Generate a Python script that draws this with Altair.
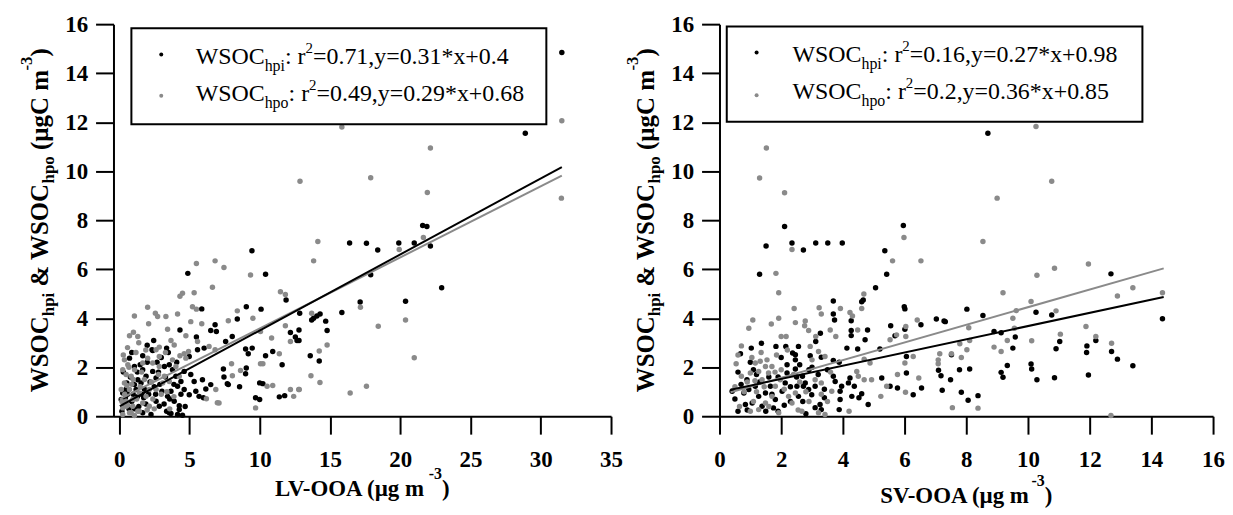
import altair as alt
import pandas as pd

# ---------------- data ----------------
# left panel: WSOC vs LV-OOA
lv_hpi = [(31.5,14.84),(28.9,11.55),(21.6,7.78),(21.9,7.74),(16.4,7.07),(17.6,7.06),(18.4,6.78),(19.9,7.07),
          (21.0,7.07),(22.15,6.95),(17.9,5.77),(22.95,5.24),(17.15,4.66),(20.38,4.69),(15.85,4.23),(12.85,4.2),
          (12.8,3.52),(12.8,3.09),(13.7,3.93),(13.84,4.0),(14.07,4.09),(14.3,4.17),(14.7,3.88),(14.8,3.5),
          (13.6,2.47),(14.24,2.25),(9.45,6.75),(4.89,5.83),(10.42,5.79),(11.88,4.74),(5.88,4.38),(9.05,4.47),
          (10.1,4.37),(8.41,3.97),(4.33,3.52),(6.83,3.73),(6.52,3.5),(6.92,3.46),(5.5,3.23),(8.05,3.25),
          (7.58,3.05),(12.19,3.42),(12.54,3.23),(12.66,3.09),(2.46,3.09),(2.34,2.71),(3.38,2.78),(4.99,2.44),
          (5.58,2.71),(6.05,2.78),(9.0,2.74),(9.19,2.55),(9.47,2.78),(10.42,2.47),(10.93,2.64),(11.6,2.1),
          (7.42,1.93),(9.05,1.97),(9.0,1.73),(7.46,1.6),(7.77,1.29),(8.57,1.2),(10.0,1.36),(10.23,1.33),
          (11.4,0.79),(11.78,0.84),(6.52,1.29),(4.16,1.22),(4.63,1.09),(4.99,0.88),(5.46,1.02),(5.69,0.81),
          (6.0,0.75),(3.05,1.02),(3.45,0.81),(3.69,1.02),(3.92,0.61),(4.28,0.43),(2.63,0.61),(2.86,0.41),
          (3.38,0.2),(3.69,0.11),(4.16,0.07),(4.51,0.04),(2.27,0.07),(1.68,0.14),(1.09,1.29),(1.33,1.49),
          (1.56,1.36),(1.21,1.09),(1.92,1.63),(2.39,1.83),(2.63,1.56),(1.68,1.9),(1.09,2.03),(0.74,2.37),
          (0.55,1.36),(0.26,0.95),(0.15,0.68),(1.68,2.47),(2.39,2.68),(3.57,2.1),(3.8,1.9),(3.22,2.03),
          (4.04,1.63),(4.4,1.42),(5.1,1.7),(5.34,1.42),(5.93,1.49),(4.63,1.83),(6.17,1.11),(7.7,1.33),
          (9.71,0.75),(10.0,0.68),(3.57,0.14),(4.28,0.27),(0.4,0.5),(0.6,0.9),(0.9,0.6),(1.3,0.8),(1.8,1.1),
          (2.1,0.9),(0.8,1.6),(1.5,2.1),(2.0,2.2),(2.9,1.3),(3.2,0.5),(0.3,1.8),(1.1,0.3),(2.5,1.2),
          (0.2,0.2),(0.5,1.1),(0.7,0.3),(1.0,0.9),(1.4,0.4),(1.6,0.9),(1.9,0.5),(2.2,1.4),(2.6,0.9),(2.8,1.8),
          (3.0,2.4),(3.3,1.6),(3.6,0.7),(3.9,1.3),(4.1,2.2),(4.4,0.9),(4.7,0.4),(0.9,2.6),(1.3,1.8),(2.0,2.9),
          (0.45,0.75),(1.75,0.75),(2.7,2.2),(3.5,2.6)]
lv_hpo = [(31.5,12.06),(22.15,10.95),(17.9,9.73),(12.87,9.59),(21.93,9.13),(31.47,8.9),(21.65,7.29),(19.93,6.8),
          (14.14,7.13),(13.84,6.34),(17.17,4.45),(20.38,3.93),(18.44,3.67),(21.0,2.39),(17.6,1.22),(16.44,0.95),
          (13.7,4.2),(14.8,2.91),(14.24,2.66),(13.65,1.65),(14.29,1.38),(12.78,1.09),(15.85,11.8),(5.5,6.23),
          (6.83,6.34),(7.46,6.07),(9.35,5.76),(6.64,5.26),(4.51,5.02),(4.33,4.9),(5.34,5.04),(11.48,5.08),
          (11.83,4.97),(2.03,4.45),(2.58,4.2),(2.74,4.07),(1.09,4.09),(3.33,4.07),(4.16,4.17),(5.22,4.47),
          (5.5,4.37),(5.1,3.86),(8.41,4.3),(7.77,3.9),(9.52,4.0),(2.1,3.77),(3.45,3.55),(1.02,3.43),(1.33,3.25),
          (0.74,3.28),(5.88,3.77),(4.75,3.28),(5.58,3.05),(10.06,3.46),(11.83,3.69),(12.19,3.05),(2.63,2.71),
          (2.86,2.82),(3.69,3.09),(3.92,2.91),(4.33,2.47),(4.63,2.55),(4.94,2.64),(4.75,2.37),(6.4,2.85),
          (6.83,2.71),(10.06,2.14),(10.23,2.14),(11.4,2.55),(8.0,2.14),(8.06,1.65),(8.64,1.87),(10.53,1.22),
          (10.93,1.25),(9.71,0.34),(12.19,1.09),(12.42,0.81),(12.82,1.09),(6.88,1.09),(6.21,0.71),(6.99,0.55),
          (10.85,3.19),(0.38,2.3),(0.62,2.1),(0.26,1.9),(0.5,1.7),(0.86,1.63),(0.38,1.36),(0.15,1.09),(0.74,1.09),
          (1.44,0.95),(1.92,0.81),(2.15,1.09),(1.68,0.54),(0.5,0.61),(0.26,0.34),(2.15,0.41),(2.63,1.09),
          (3.1,1.36),(3.22,1.63),(3.57,1.42),(2.86,2.03),(2.39,2.17),(1.68,2.17),(2.03,2.37),(2.86,2.44),
          (4.04,2.03),(4.28,1.63),(3.8,2.3),(0.5,0.41),(0.86,0.14),(1.44,0.2),(0.26,0.07),(0.97,0.68),(7.11,0.54),
          (0.97,0.41),(1.33,0.2),(0.74,0.14),(1.09,0.03),(1.2,2.6),(1.8,1.5),(2.4,0.7),(3.0,0.9),(3.6,0.3),
          (0.6,2.8),(1.5,1.2),(0.2,0.6),(0.4,0.9),(0.6,0.45),(0.9,1.3),(1.1,1.9),(1.25,0.7),(1.6,1.8),(1.9,2.7),
          (2.3,1.4),(2.5,0.3),(2.8,1.7),(3.3,2.6),(3.9,0.8),(0.3,2.5),(0.7,2.0),(1.0,1.5),(1.4,3.0),(0.55,1.25),
          (2.0,0.25),(3.4,1.0)]
# right panel: WSOC vs SV-OOA
sv_hpi = [(1.51,6.95),(2.35,7.07),(2.72,6.78),(3.12,7.07),(3.51,7.07),(3.98,7.07),(5.36,6.75),(5.42,5.79),
          (1.3,5.79),(5.06,5.24),(3.69,4.7),(4.61,4.67),(4.66,4.74),(5.99,4.47),(6.01,4.38),(3.69,4.17),
          (3.73,3.93),(4.27,3.9),(3.27,3.39),(3.12,3.05),(4.27,3.29),(4.27,3.5),(4.8,3.52),(4.72,3.12),
          (1.36,2.98),(1.03,2.78),(0.68,2.55),(1.83,2.85),(2.15,2.85),(2.56,2.85),(2.37,2.58),(2.46,2.51),
          (2.94,2.47),(3.3,2.41),(3.69,2.28),(3.88,2.2),(4.48,2.74),(4.13,2.78),(5.2,2.74),(5.26,1.56),
          (5.55,3.69),(5.69,3.28),(6.01,3.55),(6.53,3.73),(7.03,3.97),(7.28,3.89),(6.06,2.44),(6.06,1.76),
          (5.53,1.22),(5.77,1.15),(6.28,0.88),(6.55,1.15),(7.1,1.88),(7.18,1.65),(7.22,1.06),(4.82,0.48),
          (4.61,0.92),(4.52,0.75),(4.29,0.81),(4.37,1.22),(4.23,1.56),(4.18,1.36),(3.88,0.27),(3.91,0.68),
          (3.91,1.02),(3.75,1.42),(3.69,1.63),(3.96,1.22),(3.26,0.48),(3.3,0.27),(2.89,1.09),(2.78,1.36),
          (3.1,1.22),(2.99,0.88),(2.69,1.63),(2.72,1.22),(2.51,1.22),(2.56,0.81),(2.13,1.36),(2.03,1.02),
          (2.19,1.76),(2.46,1.93),(2.46,2.3),(2.19,2.1),(0.89,1.49),(0.95,1.09),(0.79,0.95),(1.16,1.22),
          (1.27,0.81),(1.49,0.95),(1.06,0.54),(0.84,0.48),(1.65,1.22),(1.81,0.68),(1.38,0.41),(1.75,0.34),
          (0.41,1.02),(2.11,7.74),(5.96,7.78),(8.7,11.55),(12.69,5.81),(14.36,3.98),(8.02,4.37),(8.54,4.11),
          (7.32,3.86),(10.26,4.24),(10.77,4.13),(8.9,3.46),(9.13,3.41),(9.59,3.23),(9.51,2.78),(11.03,3.05),
          (10.91,2.75),(12.2,3.09),(11.9,2.6),(11.91,2.87),(12.71,2.64),(12.9,2.33),(13.4,2.06),(11.96,1.68),
          (9.33,2.07),(10.1,2.13),(10.12,1.93),(9.13,1.79),(9.19,1.59),(10.29,1.49),(10.86,1.57),(7.49,1.49),
          (7.78,1.9),(8.11,1.93),(7.84,0.98),(8.06,0.65),(8.38,0.84),(7.52,2.51),(0.6,0.2),(1.2,1.7),(1.9,0.2),
          (2.3,0.6),(2.8,0.1),(3.4,1.1),(3.5,1.9),(1.6,1.6),(3.0,2.0),
          (0.5,0.7),(0.7,1.3),(0.9,0.25),(1.1,1.9),(1.3,1.4),(1.5,0.2),(1.7,0.9),(1.9,1.6),(2.1,0.45),(2.3,1.2),
          (2.5,1.6),(2.7,0.6),(2.9,1.9),(3.1,0.35),(3.2,1.7),(3.4,0.75),(0.6,1.8),(1.0,2.2),(2.0,2.4),(2.6,2.1)]
sv_hpo = [(2.35,6.8),(5.61,6.34),(6.53,6.34),(1.83,5.83),(1.92,5.04),(4.68,4.99),(2.42,4.4),(3.23,4.43),
          (3.92,4.4),(3.3,4.17),(4.23,4.23),(4.31,4.09),(4.61,4.4),(1.08,3.93),(0.95,3.59),(1.68,3.76),(1.92,4.0),
          (2.46,3.82),(2.78,3.89),(2.76,3.69),(2.89,3.5),(3.12,3.25),(3.77,3.25),(3.59,3.52),(4.48,3.52),
          (2.0,3.25),(2.16,3.25),(0.71,2.87),(0.54,2.14),(0.71,1.63),(3.21,2.64),(3.42,2.44),(2.94,2.85),
          (4.69,2.33),(4.88,2.17),(5.53,3.12),(5.74,3.32),(6.04,3.66),(6.04,3.25),(6.41,3.93),(6.28,2.44),
          (6.01,2.17),(5.77,1.7),(6.03,0.98),(6.46,1.56),(7.09,2.14),(5.42,1.22),(4.93,1.49),(5.23,0.81),
          (4.45,1.83),(4.5,1.63),(4.69,1.49),(4.2,0.2),(3.64,1.02),(3.1,1.49),(3.3,1.36),(2.46,0.95),(2.24,0.81),
          (2.35,0.54),(1.97,1.49),(1.81,1.22),(1.7,0.81),(1.49,0.54),(1.27,0.27),(1.16,2.17),(1.32,2.24),
          (1.49,2.03),(1.59,1.76),(1.27,1.83),(1.38,1.49),(1.0,1.76),(1.54,2.3),(1.7,2.03),(1.0,0.2),(1.92,0.14),
          (2.67,0.2),(3.21,0.14),(3.42,0.07),(1.52,10.95),(1.3,9.72),(2.11,9.12),(5.98,7.29),(10.26,11.82),
          (10.77,9.59),(9.0,8.9),(8.54,7.13),(11.96,6.21),(10.86,6.04),(10.29,5.75),(9.19,5.04),(13.4,5.24),
          (12.9,4.91),(14.36,5.04),(10.1,4.68),(10.91,4.3),(9.62,4.31),(9.51,4.0),(8.08,3.61),(9.56,3.59),
          (9.33,3.09),(9.13,2.64),(8.9,2.82),(10.12,3.08),(11.05,3.35),(11.88,3.66),(12.2,3.25),(12.71,2.98),
          (7.55,0.35),(8.38,0.33),(12.69,0.03),(7.14,2.55),(7.52,2.55),(7.84,2.4),(8.02,2.71),(7.79,2.96),
          (8.11,3.09),(7.09,2.3),(0.8,1.0),(1.1,0.6),(2.0,1.9),(2.6,1.4),(2.9,0.6),(3.5,0.6),
          (0.5,1.2),(0.65,0.4),(0.9,1.4),(1.05,2.4),(1.2,1.0),(1.35,2.6),(1.45,1.2),(1.6,0.4),(1.8,1.8),(2.1,1.1),
          (2.2,2.7),(2.4,1.7),(2.55,0.25),(2.8,1.0),(3.0,2.3),(3.3,0.9),(3.6,1.8),(0.6,2.5),(1.15,1.45),(1.85,2.5)]

# fits printed in the legends: r2, slope, intercept  (order: hpi, hpo)
lv_r2, lv_slope, lv_icpt = [0.71, 0.49], [0.31, 0.29], [0.4, 0.68]
sv_r2, sv_slope, sv_icpt = [0.16, 0.2], [0.27, 0.36], [0.98, 0.85]
lv_fit_x = [0.05, 31.5]
sv_fit_x = [0.36, 14.4]

lv_x_ticks = [0, 5, 10, 15, 20, 25, 30, 35]
sv_x_ticks = [0, 2, 4, 6, 8, 10, 12, 14, 16]
y_ticks = [0, 2, 4, 6, 8, 10, 12, 14, 16]

# ---------------- styling / helpers ----------------
FONT = "Liberation Serif"
BLACK = "#000000"
GRAY = "#8a8a8a"

TR = {' ': 250, '!': 333, '(': 333, ')': 333, '*': 500, '+': 564, ',': 250, '-': 333, '.': 250, ':': 278,
      '=': 564, '&': 778, 'A': 722, 'C': 667, 'L': 611, 'O': 722, 'S': 556, 'V': 722, 'W': 944, 'g': 500,
      'h': 500, 'i': 278, 'm': 778, 'o': 500, 'p': 500, 'r': 333, 'x': 500, 'y': 500, 'µ': 500}
TB = {' ': 250, '(': 333, ')': 333, '-': 333, '&': 833, 'A': 722, 'C': 722, 'L': 667, 'O': 778, 'S': 556,
      'V': 722, 'W': 1000, 'g': 500, 'h': 556, 'i': 278, 'm': 833, 'o': 500, 'p': 556, 'µ': 556}


def tw(s, size, bold):
    m = TB if bold else TR
    return sum(m.get(c, 500) for c in s) * size / 1000.0


def run_length(segs, bold):
    return sum(tw(t, s, bold) for t, s, _ in segs)


def one_text(t, px, py, size, bold, angle):
    return alt.Chart(pd.DataFrame({"t": [t]})).mark_text(
        align="left", baseline="alphabetic", font=FONT, fontSize=size,
        fontWeight="bold" if bold else "normal", angle=angle, color=BLACK
    ).encode(x=alt.value(px), y=alt.value(py), text="t:N")


def run_layers(segs, x0, y0, angle, bold):
    out = []
    adv = 0.0
    for text, size, shift in segs:
        lead = len(text) - len(text.lstrip(" "))
        adv += tw(" " * lead, size, bold)
        core = text.strip(" ")
        if core:
            if angle == 0:
                out.append(one_text(core, x0 + adv, y0 + shift, size, bold, 0))
            else:
                out.append(one_text(core, x0 + shift, y0 - adv, size, bold, 270))
            adv += tw(core, size, bold)
            trail = len(text) - len(text.rstrip(" "))
            adv += tw(" " * trail, size, bold)
    return out


def panel(hpi, hpo, r2, slope, icpt, fit_x, xdom, xticks, xname, W, H, box, xt_base, anchor=False):
    d_hpi = pd.DataFrame(hpi, columns=["x", "y"])
    d_hpo = pd.DataFrame(hpo, columns=["x", "y"])
    xs = alt.Scale(domain=xdom, nice=False, zero=False)
    ys = alt.Scale(domain=[0, 16], nice=False, zero=False)
    xax = alt.Axis(values=xticks, title=None, grid=False, labelFlush=False, labelOverlap=False,
                   labelPadding=15, tickSize=18)
    yax = alt.Axis(values=y_ticks, title=None, grid=False, labelFlush=False, labelOverlap=False,
                   labelPadding=8, tickSize=18)

    layers = []
    layers.append(alt.Chart(d_hpi).mark_circle(size=30, opacity=1, color=BLACK).encode(
        x=alt.X("x:Q", scale=xs, axis=xax), y=alt.Y("y:Q", scale=ys, axis=yax)))
    layers.append(alt.Chart(d_hpo).mark_circle(size=30, opacity=1, color=GRAY).encode(
        x=alt.X("x:Q", scale=xs), y=alt.Y("y:Q", scale=ys)))
    for i, col in [(1, GRAY), (0, BLACK)]:
        fl = pd.DataFrame({"x": fit_x, "y": [slope[i] * v + icpt[i] for v in fit_x]})
        layers.append(alt.Chart(fl).mark_line(color=col, strokeWidth=2).encode(
            x=alt.X("x:Q", scale=xs), y=alt.Y("y:Q", scale=ys)))

    # legend box
    bx1, by1, bx2, by2, mx, tx, rows, my = box
    layers.append(alt.Chart(pd.DataFrame({"a": [0]})).mark_rect(
        fill="white", stroke=BLACK, strokeWidth=2).encode(
        x=alt.value(bx1), x2=alt.value(bx2), y=alt.value(by1), y2=alt.value(by2)))
    for i, (sub, col) in enumerate([("hpi", BLACK), ("hpo", GRAY)]):
        layers.append(alt.Chart(pd.DataFrame({"a": [0]})).mark_circle(size=16, opacity=1, color=col).encode(
            x=alt.value(mx), y=alt.value(my[i])))
        segs = [("WSOC", 24, 0), (sub, 16, 7), (": r", 24, 0), ("2", 15, -11),
                (f"={r2[i]:g},y={slope[i]:g}*x+{icpt[i]:g}", 24, 0)]
        layers += run_layers(segs, tx, rows[i], 0, False)

    # x title
    xsegs = [(xname + " (µg m", 23, 0), ("-3", 16, -17), (")", 23, 0)]
    L = run_length(xsegs, True)
    layers += run_layers(xsegs, W / 2 - L / 2, H + xt_base, 0, True)

    # y title (rotated)
    ysegs = [("WSOC", 25, 0), ("hpi", 17, 6), (" & WSOC", 25, 0), ("hpo", 17, 6),
             (" (µgC m", 25, 0), ("-3", 17, -16), (")", 25, 0)]
    L = run_length(ysegs, True)
    layers += run_layers(ysegs, -66, H / 2 + L / 2, 270, True)

    if anchor:
        layers.append(alt.Chart(pd.DataFrame({"a": [0]})).mark_rect(opacity=0).encode(
            x=alt.value(-105.8), x2=alt.value(-104.8), y=alt.value(-14.7), y2=alt.value(-13.7)))

    return alt.layer(*layers).properties(width=W, height=H)


left = panel(lv_hpi, lv_hpo, lv_r2, lv_slope, lv_icpt, lv_fit_x, [-0.4, 35], lv_x_ticks, "LV-OOA",
             500, 394, (18, 4, 435, 100.6, 48, 82.6, [40, 77], [30.5, 72]), 80, anchor=True)
right = panel(sv_hpi, sv_hpo, sv_r2, sv_slope, sv_icpt, sv_fit_x, [0, 16], sv_x_ticks, "SV-OOA",
              496, 394, (7.3, 2.3, 425, 98, 37.3, 73.3, [38, 75], [28.5, 71.5]), 87)

chart = alt.hconcat(left, right, spacing=109, bounds="flush").properties(
    padding=0, background="white"
).configure_view(stroke=None).configure_axis(
    labelFont=FONT, labelFontWeight="bold", labelFontSize=23, labelColor=BLACK,
    domainColor=BLACK, tickColor=BLACK, domainWidth=2, tickWidth=2
)

chart.save("out.html", embed_options={"renderer": "svg", "actions": False})
